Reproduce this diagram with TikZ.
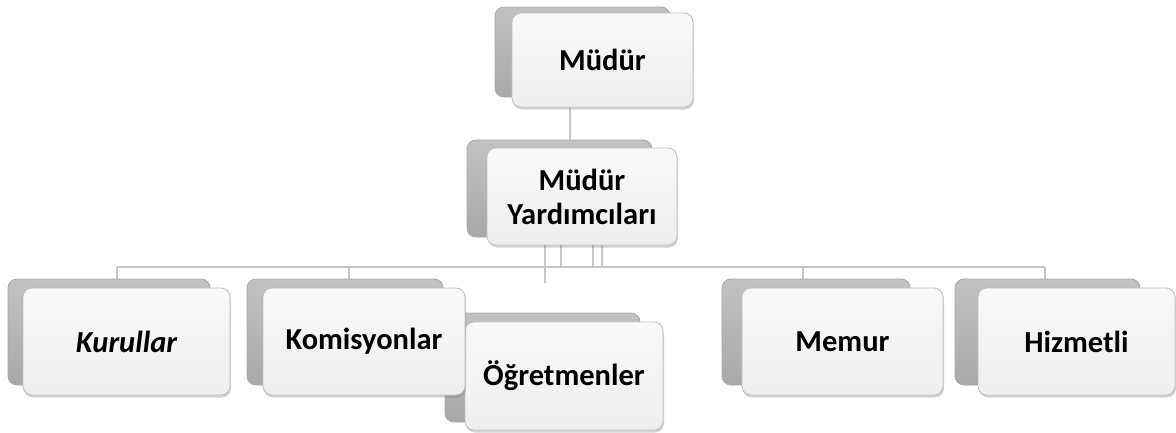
\documentclass[tikz,border=0pt]{standalone}
\usepackage{fontspec}
\setmainfont{Carlito}
\usetikzlibrary{shadows,backgrounds,calc}

\begin{document}
\begin{tikzpicture}[
    x=1pt, y=-1pt,
    card/.style={rectangle, rounded corners=9pt, draw=gray!50, line width=0.8pt, top color=gray!5, bottom color=gray!13, drop shadow={shadow xshift=1pt, shadow yshift=-2.5pt, opacity=0.35}, align=center, inner sep=0pt, font=\fontsize{30.5}{34}\selectfont\bfseries},
    backcard/.style={rectangle, rounded corners=9pt, draw=gray!70, line width=0.8pt, top color=gray!48, bottom color=gray!68, inner sep=0pt},
    link/.style={draw=gray!45, line width=1.2pt}
]
\useasboundingbox (0,0) rectangle (1176,432);

\node[backcard, minimum width=175pt, minimum height=90pt] (mudur-b) at (582.5,52) {};
\node[card, minimum width=181pt, minimum height=94pt] (mudur) at (602.5,60) {Müdür};

\node[backcard, minimum width=185pt, minimum height=97pt] (yard-b) at (559.5,188.5) {};
\node[card, minimum width=190pt, minimum height=97pt] (yard) at (582,196.5) {Müdür\\Yardımcıları};

\node[backcard, minimum width=202pt, minimum height=106pt] (kurul-b) at (109,332) {};
\node[card, minimum width=207pt, minimum height=107pt] (kurul) at (126.5,341.5) {\itshape Kurullar};

\node[backcard, minimum width=195pt, minimum height=109pt] (ogret-b) at (542.5,367.5) {};
\node[card, minimum width=198pt, minimum height=108pt] (ogret) at (564,376) {Öğretmenler};

\node[backcard, minimum width=196pt, minimum height=106pt] (komis-b) at (345,332) {};
\node[card, minimum width=202pt, minimum height=107pt] (komis) at (364,341.5) {Komisyonlar};

\node[backcard, minimum width=188pt, minimum height=106pt] (memur-b) at (816,332) {};
\node[card, minimum width=201pt, minimum height=107pt] (memur) at (842.5,341.5) {Memur};

\node[backcard, minimum width=185pt, minimum height=106pt] (hizm-b) at (1047.5,332) {};
\node[card, minimum width=197pt, minimum height=107pt] (hizm) at (1076.5,341.5) {Hizmetli};

% connectors behind the cards
\begin{scope}[on background layer]
\draw[link] ($(mudur-b.south)+(-12.5,0)$) -- ($(yard-b.north)+(10.5,0)$);
\coordinate (bus-l) at (117,267);
\coordinate (bus-r) at (1045,267);
\coordinate (ogret-in) at (545,283);
\draw[link] (bus-l) -- (bus-r);
\foreach \x in {561,593,602}
    \draw[link] (\x,0 |- yard.south) -- (\x,0 |- bus-l);
\draw[link] (ogret-in |- yard.south) -- (ogret-in);
\foreach \x/\n in {117/kurul-b,349/komis-b,803/memur-b,1045/hizm-b}
    \draw[link] (\x,0 |- bus-l) -- (\x,0 |- \n.north);
\end{scope}
\end{tikzpicture}
\end{document}
